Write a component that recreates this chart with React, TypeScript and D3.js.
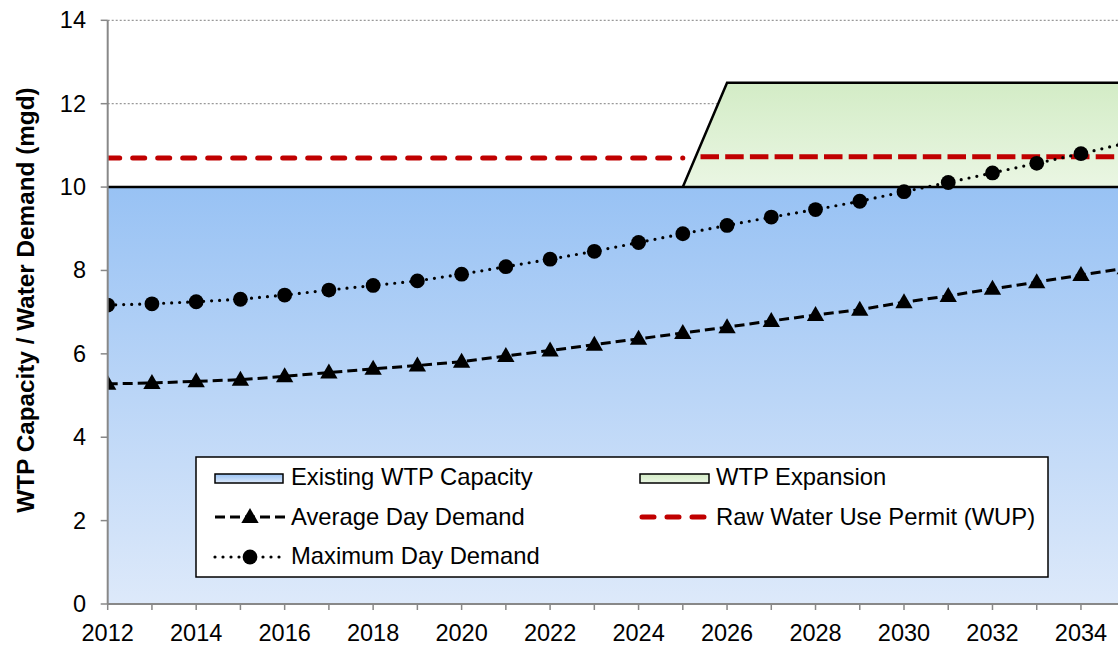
import React from "react";
import * as d3 from "d3";

const years = [2012, 2013, 2014, 2015, 2016, 2017, 2018, 2019, 2020, 2021, 2022, 2023, 2024, 2025, 2026, 2027, 2028, 2029, 2030, 2031, 2032, 2033, 2034, 2035];
const maxDay = [7.17, 7.2, 7.25, 7.31, 7.41, 7.53, 7.64, 7.75, 7.91, 8.09, 8.27, 8.46, 8.67, 8.88, 9.08, 9.28, 9.46, 9.66, 9.89, 10.11, 10.34, 10.57, 10.8, 11.05];
const avgDay = [5.28, 5.3, 5.34, 5.38, 5.46, 5.55, 5.64, 5.72, 5.81, 5.95, 6.08, 6.22, 6.36, 6.5, 6.64, 6.79, 6.93, 7.06, 7.24, 7.39, 7.56, 7.72, 7.89, 8.05];
const existingCapacity = [10, 10, 10, 10, 10, 10, 10, 10, 10, 10, 10, 10, 10, 10, 10, 10, 10, 10, 10, 10, 10, 10, 10, 10];
const expansion = [0, 0, 0, 0, 0, 0, 0, 0, 0, 0, 0, 0, 0, 0, 2.5, 2.5, 2.5, 2.5, 2.5, 2.5, 2.5, 2.5, 2.5, 2.5];
const wupCurrentYears = [2012, 2025];
const wupCurrent = [10.7, 10.7];
const wupFutureYears = [2025.4, 2035];
const wupFuture = [10.73, 10.73];
const yTicks = [0, 2, 4, 6, 8, 10, 12, 14];
const xLabelYears = [2012, 2014, 2016, 2018, 2020, 2022, 2024, 2026, 2028, 2030, 2032, 2034];
const legendLabels = ["Existing WTP Capacity", "WTP Expansion", "Average Day Demand", "Raw Water Use Permit (WUP)", "Maximum Day Demand"];

const W = 1118;
const H = 646;
const FONT = "Liberation Sans, Arial, sans-serif";

export default function App() {
  const x = d3.scaleLinear().domain([2012, 2035]).range([107.7, 1125.2]);
  const y = d3.scaleLinear().domain([0, 14]).range([604, 20.3]);
  const plotL = 107.7, plotR = W, plotT = y(14), plotB = y(0);

  const idx = years.map((_, i) => i);
  const capArea = d3.area<number>().x(i => x(years[i])).y0(() => y(0)).y1(i => y(existingCapacity[i]))(idx) || "";
  const expIdx = idx.filter(i => years[i] >= 2025);
  const expArea = d3.area<number>().x(i => x(years[i])).y0(i => y(existingCapacity[i])).y1(i => y(existingCapacity[i] + expansion[i]))(expIdx) || "";
  const capLine = d3.line<number>().x(i => x(years[i])).y(i => y(existingCapacity[i]))(idx) || "";
  const expLine = d3.line<number>().x(i => x(years[i])).y(i => y(existingCapacity[i] + expansion[i]))(expIdx) || "";
  const maxLine = d3.line<number>().x(i => x(years[i])).y(i => y(maxDay[i]))(idx) || "";
  const avgLine = d3.line<number>().x(i => x(years[i])).y(i => y(avgDay[i]))(idx) || "";
  const wup1 = d3.line<number>().x(i => x(wupCurrentYears[i])).y(i => y(wupCurrent[i]))([0, 1]) || "";
  const wup2 = d3.line<number>().x(i => x(wupFutureYears[i])).y(i => y(wupFuture[i]))([0, 1]) || "";
  const tri = d3.symbol().type(d3.symbolTriangle).size(130)() || "";

  const lgX = 196, lgY = 457;
  const LF = 23.8;
  return (
    <svg width={W} height={H} style={{ position: "absolute", left: 0, top: 0, background: "#fff" }} fontFamily={FONT}>
      <defs>
        <linearGradient id="blueG" x1="0" y1="0" x2="0" y2="1">
          <stop offset="0%" stopColor="#98C2F4" />
          <stop offset="100%" stopColor="#DDE9FA" />
        </linearGradient>
        <linearGradient id="greenG" x1="0" y1="0" x2="0" y2="1">
          <stop offset="0%" stopColor="#D3ECC6" />
          <stop offset="100%" stopColor="#EAF6E3" />
        </linearGradient>
        <clipPath id="plotClip">
          <rect x={plotL} y={0} width={plotR - plotL} height={plotB + 2} />
        </clipPath>
      </defs>

      {yTicks.filter(t => t > 0).map(t => (
        <line key={t} x1={plotL} x2={plotR} y1={y(t)} y2={y(t)} stroke="#999" strokeWidth={1.3} strokeDasharray="2,2" />
      ))}

      <g clipPath="url(#plotClip)">
        <path d={capArea} fill="url(#blueG)" />
        <path d={expArea} fill="url(#greenG)" />
        <path d={wup1} fill="none" stroke="#C00000" strokeWidth={5} strokeDasharray="12,13" strokeLinecap="round" />
        <path d={capLine} fill="none" stroke="#000" strokeWidth={2.5} />
        <path d={expLine} fill="none" stroke="#000" strokeWidth={2.5} />
        <path d={wup2} fill="none" stroke="#C00000" strokeWidth={5} strokeDasharray="18.5,6.2" />
        <path d={avgLine} fill="none" stroke="#000" strokeWidth={3} strokeDasharray="10,5" />
        {idx.map(i => (
          <path key={"t" + i} d={tri} transform={`translate(${x(years[i])},${y(avgDay[i]) + 1})`} fill="#000" />
        ))}
        <path d={maxLine} fill="none" stroke="#000" strokeWidth={3.2} strokeDasharray="0,8" strokeLinecap="round" />
        {idx.map(i => (
          <circle key={"c" + i} cx={x(years[i])} cy={y(maxDay[i])} r={7.4} fill="#000" />
        ))}
      </g>

      <line x1={plotL} x2={plotL} y1={plotT} y2={plotB} stroke="#888" strokeWidth={2} />
      <line x1={plotL} x2={plotR} y1={plotB} y2={plotB} stroke="#888" strokeWidth={2} />
      {yTicks.map(t => (
        <g key={t}>
          <line x1={plotL - 7} x2={plotL} y1={y(t)} y2={y(t)} stroke="#888" strokeWidth={1.5} />
          <text x={86} y={y(t) + 8} textAnchor="end" fontSize={23.5} fill="#000">{t}</text>
        </g>
      ))}
      {years.filter(yr => x(yr) <= plotR).map(yr => (
        <line key={yr} x1={x(yr)} x2={x(yr)} y1={plotB} y2={plotB + 6} stroke="#888" strokeWidth={1.5} />
      ))}
      {xLabelYears.map(yr => (
        <text key={yr} x={x(yr)} y={641} textAnchor="middle" fontSize={23.5} fill="#000">{yr}</text>
      ))}
      <text transform="translate(34,300) rotate(-90)" textAnchor="middle" fontSize={24.3} fontWeight="bold" fill="#000">
        WTP Capacity / Water Demand (mgd)
      </text>

      <rect x={lgX} y={lgY} width={852} height={120} fill="#fff" stroke="#000" strokeWidth={1.5} />
      <rect x={215} y={474} width={68} height={9} fill="url(#blueG)" stroke="#000" strokeWidth={1.5} />
      <text x={291} y={485} fontSize={LF} fill="#000">{legendLabels[0]}</text>
      <rect x={640} y={474} width={69} height={9} fill="url(#greenG)" stroke="#000" strokeWidth={1.5} />
      <text x={716} y={485} fontSize={LF} fill="#000">{legendLabels[1]}</text>

      <line x1={215} x2={285} y1={517} y2={517} stroke="#000" strokeWidth={3} strokeDasharray="10,5" />
      <path d={tri} transform="translate(250,518)" fill="#000" />
      <text x={291} y={525} fontSize={LF} fill="#000">{legendLabels[2]}</text>
      <line x1={642} x2={706} y1={517} y2={517} stroke="#C00000" strokeWidth={5} strokeDasharray="12,13" strokeLinecap="round" />
      <text x={716} y={525} fontSize={LF} fill="#000">{legendLabels[3]}</text>

      <line x1={215} x2={285} y1={557} y2={557} stroke="#000" strokeWidth={3.2} strokeDasharray="0,8" strokeLinecap="round" />
      <circle cx={250} cy={557} r={7.4} fill="#000" />
      <text x={291} y={564} fontSize={LF} fill="#000">{legendLabels[4]}</text>
    </svg>
  );
}
